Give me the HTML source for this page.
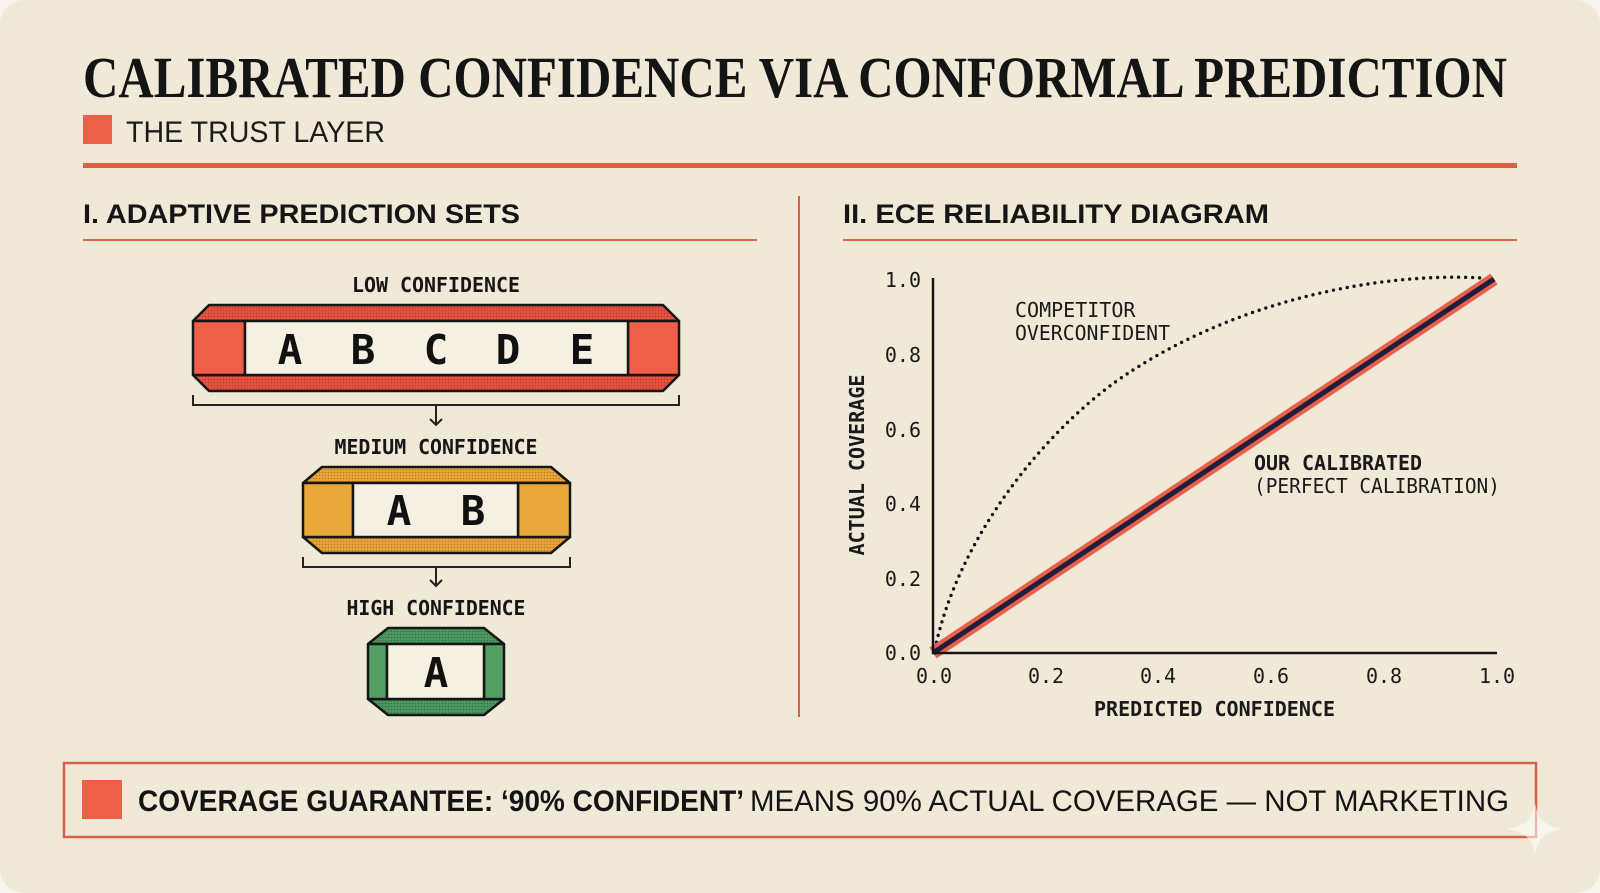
<!DOCTYPE html>
<html>
<head>
<meta charset="utf-8">
<style>
  html,body{margin:0;padding:0;background:#f7f5ef;}
  svg{display:block;}
</style>
</head>
<body>
<svg width="1600" height="893" viewBox="0 0 1600 893" xmlns="http://www.w3.org/2000/svg">
  <defs>
    <pattern id="pr" width="3" height="3" patternUnits="userSpaceOnUse">
      <rect width="3" height="3" fill="#e6533f"/>
      <circle cx="1.5" cy="1.5" r="0.8" fill="#b83a2c"/>
    </pattern>
    <pattern id="po" width="3" height="3" patternUnits="userSpaceOnUse">
      <rect width="3" height="3" fill="#e8a538"/>
      <circle cx="1.5" cy="1.5" r="0.8" fill="#b97a22"/>
    </pattern>
    <pattern id="pg" width="3" height="3" patternUnits="userSpaceOnUse">
      <rect width="3" height="3" fill="#4c9960"/>
      <circle cx="1.5" cy="1.5" r="0.8" fill="#2f6e40"/>
    </pattern>
  </defs>

  <!-- card -->
  <rect x="0" y="0" width="1600" height="893" rx="24" ry="24" fill="#f0e9d8"/>

  <!-- Title -->
  <text x="83" y="97" font-family="'Liberation Serif', serif" font-weight="bold" font-size="58" fill="#141414" textLength="1424" lengthAdjust="spacingAndGlyphs">CALIBRATED CONFIDENCE VIA CONFORMAL PREDICTION</text>
  <rect x="83" y="115" width="29" height="29" fill="#ec5f48"/>
  <text x="126" y="142" font-family="'Liberation Sans', sans-serif" font-size="30" fill="#1c1c1c" textLength="259" lengthAdjust="spacingAndGlyphs">THE TRUST LAYER</text>
  <rect x="83" y="163" width="1434" height="5" fill="#dc5f46"/>

  <!-- Section headings -->
  <text x="83" y="223" font-family="'Liberation Sans', sans-serif" font-weight="bold" font-size="27" fill="#161616" textLength="437" lengthAdjust="spacingAndGlyphs">I. ADAPTIVE PREDICTION SETS</text>
  <rect x="83" y="239" width="674" height="2" fill="#dc5f46"/>
  <text x="843" y="223" font-family="'Liberation Sans', sans-serif" font-weight="bold" font-size="27" fill="#161616" textLength="426" lengthAdjust="spacingAndGlyphs">II. ECE RELIABILITY DIAGRAM</text>
  <rect x="843" y="239" width="674" height="2" fill="#dc5f46"/>
  <rect x="798" y="196" width="2" height="521" fill="#dc5f46"/>

  <!-- LEFT: prediction sets -->
  <g font-family="'DejaVu Sans Mono', 'Liberation Mono', monospace" fill="#161616">
    <text x="436" y="292" text-anchor="middle" font-weight="bold" font-size="20" textLength="168" lengthAdjust="spacingAndGlyphs">LOW CONFIDENCE</text>
    <text x="436" y="454" text-anchor="middle" font-weight="bold" font-size="20" textLength="203" lengthAdjust="spacingAndGlyphs">MEDIUM CONFIDENCE</text>
    <text x="436" y="615" text-anchor="middle" font-weight="bold" font-size="20" textLength="179" lengthAdjust="spacingAndGlyphs">HIGH CONFIDENCE</text>
  </g>

  <!-- Low box -->
  <g stroke="#161616" stroke-width="2.5" stroke-linejoin="round">
    <polygon points="209,305 663,305 679,321 193,321" fill="url(#pr)"/>
    <polygon points="193,375 679,375 663,391 209,391" fill="url(#pr)"/>
    <rect x="193" y="321" width="52" height="54" fill="#ef5e49"/>
    <rect x="628" y="321" width="51" height="54" fill="#ef5e49"/>
    <rect x="245" y="321" width="383" height="54" fill="#f6f0e3"/>
  </g>
  <g font-family="'DejaVu Sans Mono', 'Liberation Mono', monospace" font-weight="bold" font-size="41" fill="#111" text-anchor="middle">
    <text x="290" y="364">A</text>
    <text x="363" y="364">B</text>
    <text x="436" y="364">C</text>
    <text x="508" y="364">D</text>
    <text x="582" y="364">E</text>
  </g>
  <g stroke="#222" stroke-width="2" fill="none">
    <polyline points="193,395 193,405 679,405 679,395"/>
    <line x1="436" y1="405" x2="436" y2="425"/>
    <polyline points="430,419 436,425 442,419"/>
  </g>

  <!-- Medium box -->
  <g stroke="#161616" stroke-width="2.5" stroke-linejoin="round">
    <polygon points="322,467 551,467 570,483 303,483" fill="url(#po)"/>
    <polygon points="303,537 570,537 551,553 322,553" fill="url(#po)"/>
    <rect x="303" y="483" width="50" height="54" fill="#e9a83c"/>
    <rect x="518" y="483" width="52" height="54" fill="#e9a83c"/>
    <rect x="353" y="483" width="165" height="54" fill="#f6f0e3"/>
  </g>
  <g font-family="'DejaVu Sans Mono', 'Liberation Mono', monospace" font-weight="bold" font-size="41" fill="#111" text-anchor="middle">
    <text x="399" y="525">A</text>
    <text x="473" y="525">B</text>
  </g>
  <g stroke="#222" stroke-width="2" fill="none">
    <polyline points="303,557 303,567 570,567 570,557"/>
    <line x1="436" y1="567" x2="436" y2="586"/>
    <polyline points="430,580 436,586 442,580"/>
  </g>

  <!-- High box -->
  <g stroke="#161616" stroke-width="2.5" stroke-linejoin="round">
    <polygon points="388,628 484,628 504,644 368,644" fill="url(#pg)"/>
    <polygon points="368,699 504,699 484,715 388,715" fill="url(#pg)"/>
    <rect x="368" y="644" width="19" height="55" fill="#52a064"/>
    <rect x="484" y="644" width="20" height="55" fill="#52a064"/>
    <rect x="387" y="644" width="97" height="55" fill="#f6f0e3"/>
  </g>
  <text x="436" y="687" text-anchor="middle" font-family="'DejaVu Sans Mono', 'Liberation Mono', monospace" font-weight="bold" font-size="41" fill="#111">A</text>

  <!-- RIGHT: reliability diagram -->
  <g font-family="'DejaVu Sans Mono', 'Liberation Mono', monospace" font-size="20" fill="#1a1a1a">
    <text x="921" y="287" text-anchor="end">1.0</text>
    <text x="921" y="362" text-anchor="end">0.8</text>
    <text x="921" y="437" text-anchor="end">0.6</text>
    <text x="921" y="511" text-anchor="end">0.4</text>
    <text x="921" y="586" text-anchor="end">0.2</text>
    <text x="921" y="660" text-anchor="end">0.0</text>
    <text x="934" y="683" text-anchor="middle">0.0</text>
    <text x="1046" y="683" text-anchor="middle">0.2</text>
    <text x="1158" y="683" text-anchor="middle">0.4</text>
    <text x="1271" y="683" text-anchor="middle">0.6</text>
    <text x="1384" y="683" text-anchor="middle">0.8</text>
    <text x="1497" y="683" text-anchor="middle">1.0</text>
    <text x="1015" y="317">COMPETITOR</text>
    <text x="1015" y="340" textLength="155" lengthAdjust="spacingAndGlyphs">OVERCONFIDENT</text>
    <text x="1254" y="470" font-weight="bold" textLength="168" lengthAdjust="spacingAndGlyphs">OUR CALIBRATED</text>
    <text x="1254" y="493" textLength="246" lengthAdjust="spacingAndGlyphs">(PERFECT CALIBRATION)</text>
    <text x="1094" y="716" font-weight="bold" textLength="241" lengthAdjust="spacingAndGlyphs">PREDICTED CONFIDENCE</text>
    <text x="0" y="0" font-weight="bold" text-anchor="middle" transform="translate(864,465) rotate(-90)" textLength="181" lengthAdjust="spacingAndGlyphs">ACTUAL COVERAGE</text>
  </g>

  <!-- competitor dotted curve -->
  <path fill="none" stroke="#161616" stroke-width="3.4" stroke-linecap="round" stroke-dasharray="0 7"
    d="M935,649 C960,530 1055,420 1130,372 C1240,300 1380,272 1482,278"/>

  <!-- calibrated line -->
  <line x1="933" y1="653" x2="1494" y2="279" stroke="#e8604c" stroke-width="13"/>
  <line x1="933" y1="653" x2="1494" y2="279" stroke="#1f1c3c" stroke-width="5"/>

  <!-- axes -->
  <g stroke="#141414" stroke-width="2.5">
    <line x1="933" y1="278" x2="933" y2="654"/>
    <line x1="932" y1="653" x2="1497" y2="653"/>
  </g>

  <!-- Bottom banner -->
  <rect x="64" y="763" width="1472" height="74" fill="none" stroke="#d9604a" stroke-width="2.5"/>
  <rect x="82" y="780" width="40" height="39" fill="#ef5e49"/>
  <text x="138" y="811" font-family="'Liberation Sans', sans-serif" font-weight="bold" font-size="30" fill="#141414" textLength="606" lengthAdjust="spacingAndGlyphs">COVERAGE GUARANTEE: ‘90% CONFIDENT’</text>
  <text x="750" y="811" font-family="'Liberation Sans', sans-serif" font-size="30" fill="#141414" textLength="759" lengthAdjust="spacingAndGlyphs">MEANS 90% ACTUAL COVERAGE — NOT MARKETING</text>

  <!-- sparkle -->
  <path d="M1535,803 C1538,820 1545,826 1563,829 C1545,832 1538,838 1535,855 C1532,838 1525,832 1507,829 C1525,826 1532,820 1535,803 Z" fill="#ffffff" fill-opacity="0.55"/>
</svg>
</body>
</html>
